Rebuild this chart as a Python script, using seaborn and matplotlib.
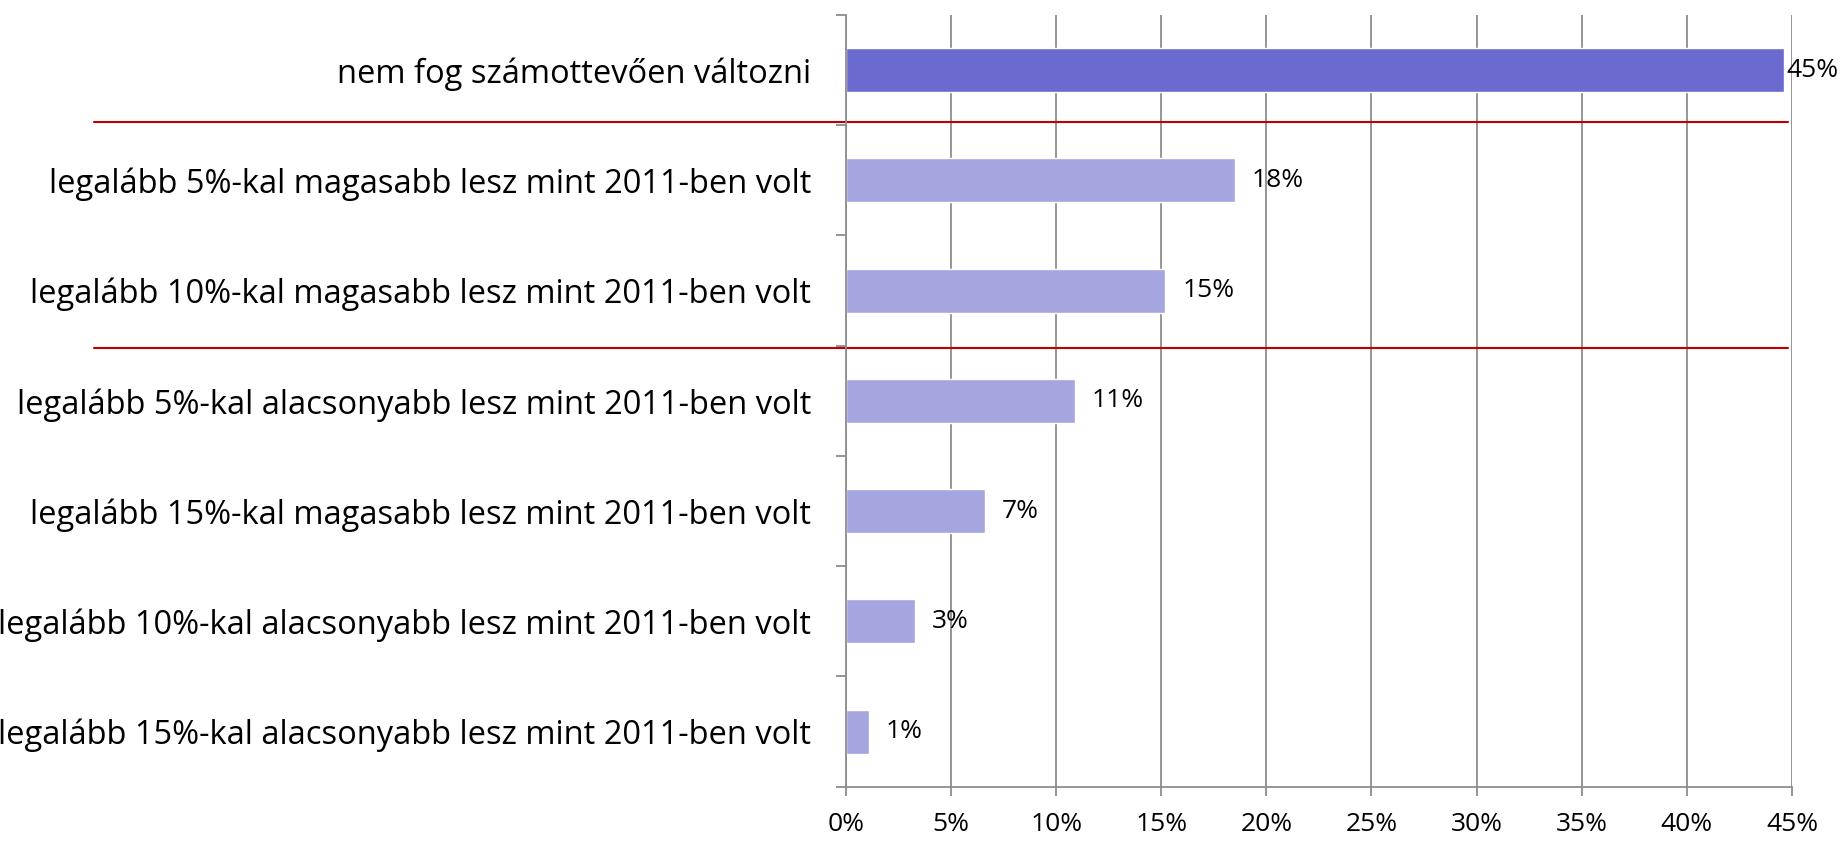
import matplotlib
matplotlib.use("Agg")
import matplotlib.pyplot as plt
from matplotlib.ticker import MultipleLocator, FixedLocator, FuncFormatter
import seaborn as sns
import pandas as pd

categories = [
    "nem fog számottevően változni",
    "legalább 5%-kal magasabb lesz mint 2011-ben volt",
    "legalább 10%-kal magasabb lesz mint 2011-ben volt",
    "legalább 5%-kal alacsonyabb lesz mint 2011-ben volt",
    "legalább 15%-kal magasabb lesz mint 2011-ben volt",
    "legalább 10%-kal alacsonyabb lesz mint 2011-ben volt",
    "legalább 15%-kal alacsonyabb lesz mint 2011-ben volt",
]
values = [44.6, 18.5, 15.2, 10.9, 6.6, 3.3, 1.1]
value_labels = ["45%", "18%", "15%", "11%", "7%", "3%", "1%"]
bar_colors = ["#6b6bcf"] + ["#a5a5df"] * 6

sns.set_theme(style="white")
plt.rcParams["font.family"] = ["Open Sans", "DejaVu Sans"]
plt.rcParams["text.color"] = "black"
plt.rcParams["xtick.labelcolor"] = "black"
plt.rcParams["ytick.labelcolor"] = "black"

df = pd.DataFrame({"category": categories, "value": values})

fig = plt.figure(figsize=(18.43, 8.41), dpi=100)
ax = fig.add_axes([0.459, 0.0646, 0.5133, 0.9176])

sns.barplot(data=df, x="value", y="category", hue="category",
            palette=bar_colors, legend=False, width=0.4, saturation=1,
            ax=ax)

ax.set_xlim(0, 45)
ax.set_ylim(6.5, -0.5)
ax.set_xlabel("")
ax.set_ylabel("")

grid_c = "#8c8c8c"
ax.xaxis.set_major_locator(MultipleLocator(5))
ax.xaxis.set_major_formatter(FuncFormatter(lambda v, p: f"{v:.0f}%"))
ax.grid(axis="x", color=grid_c, linewidth=1.3)
ax.set_axisbelow(True)

# category boundary ticks
ax.yaxis.set_minor_locator(FixedLocator([i - 0.5 for i in range(len(categories) + 1)]))
ax.tick_params(axis="y", which="major", length=0, pad=25, labelsize=23.5,
               labelcolor="black")
ax.tick_params(axis="y", which="minor", length=7, width=1.3, color=grid_c, left=True)
ax.tick_params(axis="x", which="major", length=6.5, width=1.3, color=grid_c,
               bottom=True, pad=12, labelsize=19, labelcolor="black")

for side in ["top", "right"]:
    ax.spines[side].set_visible(False)
for side in ["left", "bottom"]:
    ax.spines[side].set_color(grid_c)
    ax.spines[side].set_linewidth(1.3)

for i, cont in enumerate(ax.containers):
    ax.bar_label(cont, labels=[value_labels[i]], padding=2 if i == 0 else 12,
                 fontsize=19, color="black")

# red separator lines
for yy in [0.47, 2.52]:
    ax.axhline(yy, xmin=-0.795, xmax=0.996, color="#c00000", linewidth=1.5,
               clip_on=False)

fig.savefig("out.png", dpi=100)
